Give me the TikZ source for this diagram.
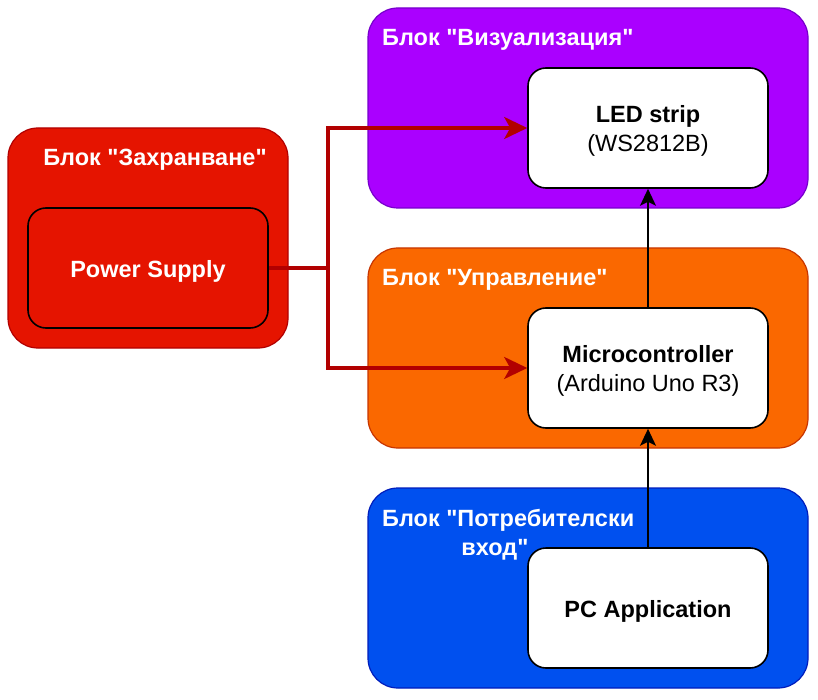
\documentclass[tikz,border=0pt]{standalone}
\usepackage{fontspec}
\setmainfont{Liberation Sans}
\usetikzlibrary{arrows.meta}
\definecolor{redfill}{HTML}{E51400}
\definecolor{redline}{HTML}{B20000}
\definecolor{purfill}{HTML}{AA00FF}
\definecolor{purline}{HTML}{7700CC}
\definecolor{orafill}{HTML}{FA6800}
\definecolor{oraline}{HTML}{C73500}
\definecolor{blufill}{HTML}{0050EF}
\definecolor{bluline}{HTML}{001DBC}
\newcommand{\qq}{\textquotedbl}
\begin{document}
\begin{tikzpicture}[x=1pt,y=-1pt,
  outerbox/.style={rounded corners=30pt, line width=1.2pt, minimum width=440pt, minimum height=200pt, inner sep=0pt},
  innerbox/.style={rounded corners=18pt, line width=1.6pt, draw=black, fill=white, minimum width=240pt, minimum height=120pt, inner sep=0pt, align=center, font=\fontsize{23.5}{29}\selectfont},
  boxtext/.style={inner sep=0pt, align=center, font=\fontsize{23.5}{29}\selectfont},
  titletext/.style={text=white, font=\fontsize{23.5}{30}\selectfont\bfseries, inner sep=0pt},
  powerarrow/.style={draw=redline, line width=3.2pt, -{Stealth[length=23pt,width=22pt,inset=6pt]}},
  sigarrow/.style={draw=black, line width=1.6pt, -{Stealth[length=17pt,width=16pt,inset=4pt]}}
]
\useasboundingbox (0,0) rectangle (818,700);
% outer blocks
\node[outerbox, draw=redline, fill=redfill, minimum width=280pt, minimum height=220pt] (storage) at (148,238) {};
\node[outerbox, draw=purline, fill=purfill] (vis) at (588,108) {};
\node[outerbox, draw=oraline, fill=orafill] (ctrl) at (588,348) {};
\node[outerbox, draw=bluline, fill=blufill] (user) at (588,588) {};
% titles
\node[titletext] (tstorage) at (155,160) {Блок \qq Захранване\qq};
\node[titletext, anchor=west] (tvis) at (382,40) {Блок \qq Визуализация\qq};
\node[titletext, anchor=west] (tctrl) at (382,280) {Блок \qq Управление\qq};
\node[titletext, anchor=west] (tuser1) at (382,520) {Блок \qq Потребителски};
\node[titletext] (tuser2) at (495,550) {вход\qq};
% inner boxes
\node[innerbox, fill=redfill] (ps) at (148,268) {};
\node[innerbox] (led) at (648,128) {};
\node[innerbox] (mc) at (648,368) {};
\node[innerbox] (pc) at (648,608) {};
\node[boxtext, text=white] (pst) at (148,271) {\bfseries Power Supply};
\node[boxtext] (ledt) at (648,131) {\bfseries LED strip\\(WS2812B)};
\node[boxtext] (mct) at (648,371) {\bfseries Microcontroller\\(Arduino Uno R3)};
\node[boxtext] (pct) at (648,611) {\bfseries PC Application};
% connectors
\coordinate (split) at (328,268);
\draw[powerarrow] (ps.east) -- (split) |- (led.west);
\draw[powerarrow] (split) |- (mc.west);
\draw[sigarrow] (mc.north) -- (led.south);
\draw[sigarrow] (pc.north) -- (mc.south);
\end{tikzpicture}
\end{document}
